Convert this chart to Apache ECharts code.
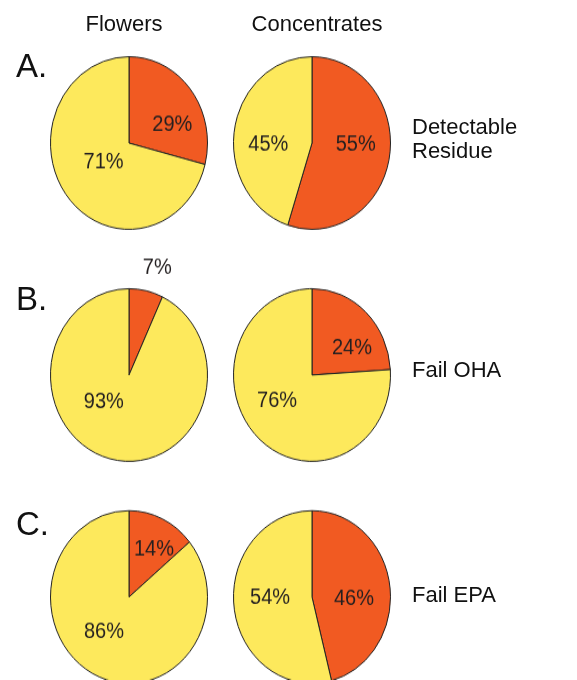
<!DOCTYPE html>
<html>
<head>
<meta charset="utf-8">
<script src="https://cdn.jsdelivr.net/npm/echarts@6/dist/echarts.min.js"></script>
<style>
  html, body { margin: 0; padding: 0; background: #fff; }
  #wrap { position: relative; width: 577px; height: 680px; overflow: hidden; }
  #text { position: absolute; left: 0; top: 0; width: 577px; height: 680px; }
  #pies { position: absolute; left: 0; top: 0; width: 577px; height: 618.18px;
          transform: scaleY(1.1); transform-origin: 0 0; }
</style>
</head>
<body>
<div id="wrap"><div id="text"></div><div id="pies"></div></div>
<script>
// ---- data ----
const categories = ['Flowers', 'Concentrates'];
const panelLetters = ['A.', 'B.', 'C.'];
const rowLabels = [['Detectable', 'Residue'], ['Fail OHA'], ['Fail EPA']];
const flowersYes = [29, 7, 14];
const flowersNo = [71, 93, 86];
const concentratesYes = [55, 24, 46];
const concentratesNo = [45, 76, 54];

// ---- layout / style (not data) ----
const SY = 1.1;                     // vertical stretch of the pie layer
const colX = [129, 312];
const rowY = [143, 375, 597];       // page coordinates
const radius = 78.5;
const orange = '#F15A22';
const yellow = '#FDE95C';
// label nudges [dx, dy] per pie: [yes, no]
const labelNudge = [
  [[[10, 9], [8, -8]], [[2, -5], [-2, 8]]],
  [[[19, -56], [-16, -17]], [[11, 6], [-6, -7]]],
  [[[7, -5], [-7, -6]], [[0, 7], [0, -5]]]
];

const font = '"Liberation Sans", Arial, Helvetica, sans-serif';

// ---- text layer ----
const textChart = echarts.init(document.getElementById('text'), null, { renderer: 'canvas' });
const gfx = [];
const headX = [124, 317];
categories.forEach((c, i) => gfx.push({
  type: 'text', x: headX[i], y: 25,
  style: { text: c, fontSize: 22, fontFamily: font, fill: '#111', align: 'center', verticalAlign: 'middle' }
}));
const letterY = [68, 301, 526];
panelLetters.forEach((t, i) => gfx.push({
  type: 'text', x: 16, y: letterY[i],
  style: { text: t, fontSize: 33, fontFamily: font, fill: '#111', align: 'left', verticalAlign: 'middle' }
}));
const rowLabelY = [[128, 152], [371], [596]];
rowLabels.forEach((lines, i) => lines.forEach((t, j) => gfx.push({
  type: 'text', x: 412, y: rowLabelY[i][j],
  style: { text: t, fontSize: 22, fontFamily: font, fill: '#111', align: 'left', verticalAlign: 'middle' }
})));
textChart.setOption({ animation: false, graphic: gfx });

// ---- pie layer ----
const pieChart = echarts.init(document.getElementById('pies'), null, { renderer: 'canvas' });
const series = [];
const cols = [[flowersYes, flowersNo], [concentratesYes, concentratesNo]];
for (let r = 0; r < 3; r++) {
  for (let c = 0; c < 2; c++) {
    const nudges = labelNudge[r][c];
    series.push({
      type: 'pie',
      name: categories[c] + ' ' + panelLetters[r],
      center: [colX[c], rowY[r] / SY],
      radius: radius,
      startAngle: 90,
      clockwise: true,
      avoidLabelOverlap: false,
      silent: true,
      label: {
        show: true, position: 'inside', formatter: '{c}%',
        fontSize: 20, fontFamily: font, color: '#231f20'
      },
      labelLine: { show: false },
      labelLayout: function (p) {
        const n = nudges[p.dataIndex];
        return { dx: n[0], dy: n[1] };
      },
      itemStyle: { borderColor: '#222', borderWidth: 1 },
      emphasis: { disabled: true },
      data: [
        { name: 'Yes', value: cols[c][0][r], itemStyle: { color: orange } },
        { name: 'No', value: cols[c][1][r], itemStyle: { color: yellow } }
      ]
    });
  }
}
pieChart.setOption({ animation: false, series: series });
</script>
</body>
</html>
